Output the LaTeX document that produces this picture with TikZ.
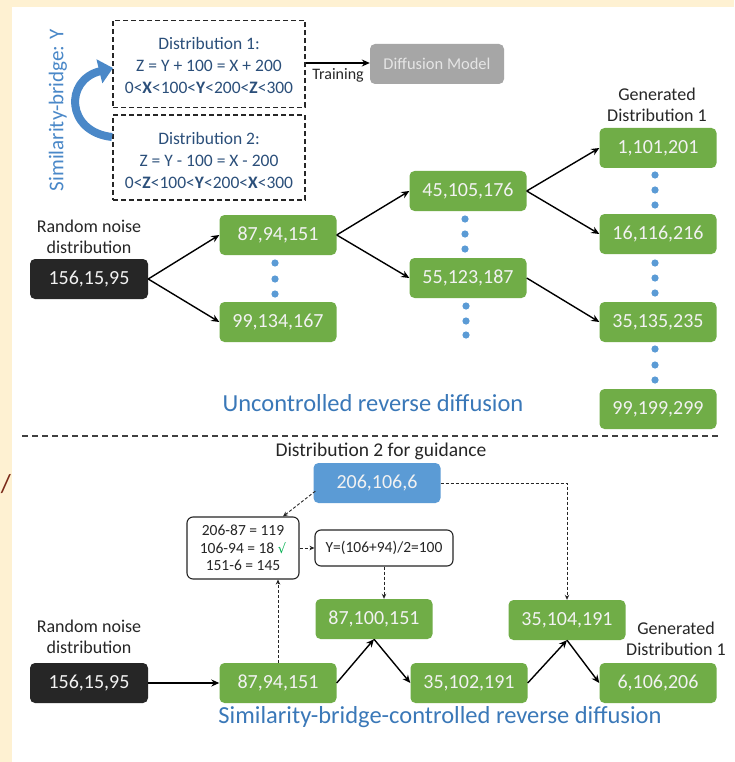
\documentclass[tikz,border=0pt]{standalone}
\usepackage{fontspec}
\setmainfont{Carlito}
\newfontfamily\dejavu{DejaVu Sans}
\usetikzlibrary{arrows.meta,calc}
\definecolor{cream}{HTML}{FEF1D2}
\definecolor{gfill}{HTML}{70AD47}
\definecolor{bfill}{HTML}{5B9BD5}
\definecolor{kfill}{HTML}{262626}
\definecolor{grayfill}{HTML}{A6A6A6}
\definecolor{navytext}{HTML}{2B4F7A}
\definecolor{labelblue}{HTML}{3A78B8}
\definecolor{arcblue}{HTML}{4A88C8}
\definecolor{checkgreen}{HTML}{00B050}
\definecolor{slashred}{HTML}{7A2A18}
\begin{document}
\begin{tikzpicture}[x=1pt,y=-1pt,
  box/.style={rounded corners=5pt, minimum width=117pt, minimum height=40pt, inner sep=0pt,
    text=white!95!black, font=\fontsize{20}{24}\selectfont},
  gbox/.style={box, fill=gfill},
  kbox/.style={box, fill=kfill, minimum width=118pt},
  bbox/.style={box, fill=bfill, minimum width=127pt},
  dbox/.style={draw=black!85, line width=1.4pt, dash pattern=on 5pt off 3pt, minimum width=192pt, inner sep=0pt},
  dtext/.style={text=navytext, font=\fontsize{17.5}{22}\selectfont, align=center},
  wbox/.style={draw=black!85, line width=1.1pt, rounded corners=6pt, fill=white, inner sep=0pt,
    font=\fontsize{15.5}{17.5}\selectfont, align=center, text=black!85},
  lbl/.style={font=\fontsize{18}{21}\selectfont, align=center, text=black!85},
  title/.style={font=\fontsize{24.5}{28}\selectfont, text=labelblue},
  arr/.style={-{Stealth[length=8pt,width=7pt]}, line width=1.4pt, black},
  darr/.style={-{Stealth[length=5pt,width=4.5pt]}, line width=0.9pt, dash pattern=on 3pt off 2pt, black!85},
  dot/.style={fill=bfill}
]
\useasboundingbox (0,0) rectangle (734,762);
\fill[cream] (0,0) rectangle (734,762);
\fill[white] (12,7) rectangle (734,762);
\node[text=slashred, font=\fontsize{26}{26}\selectfont] (slash) at (6,484) {/};

% ---------- top: distributions ----------
\node[dbox, minimum height=87pt] (db1) at (209,64) {};
\node[dtext] (dt1) at (209,65) {Distribution 1:\\ Z = Y + 100 = X + 200\\ 0<\textbf{X}<100<\textbf{Y}<200<\textbf{Z}<300};
\node[dbox, minimum height=85pt] (db2) at (209,157.5) {};
\node[dtext] (dt2) at (209,160) {Distribution 2:\\ Z = Y - 100 = X - 200\\ 0<\textbf{Z}<100<\textbf{Y}<200<\textbf{X}<300};
\node[rotate=90, text=arcblue, font=\fontsize{21}{24}\selectfont] (sb) at (58,110) {Similarity-bridge: Y};
\draw[line width=8pt, arcblue, -{Triangle[length=14pt,width=24pt]}] (112,137) .. controls (66,132) and (64,80) .. (113,68);

\node[box, fill=grayfill, minimum width=134pt, text=white!90!black, font=\fontsize{16.5}{20}\selectfont] (dm) at (437,64) {Diffusion Model};
\draw[arr, line width=1.3pt] (db1.east |- 0,63) -- (dm.west |- 0,63);
\node[font=\fontsize{16}{19}\selectfont, text=black!85] (train) at (338,75) {Training};

% ---------- uncontrolled ----------
\node[lbl] (rn1) at (89,237) {Random noise\\distribution};
\node[kbox] (k1) at (89,279) {156,15,95};
\node[gbox] (g1) at (278,235) {87,94,151};
\node[gbox] (g2) at (278,322) {99,134,167};
\node[gbox] (g3) at (468,191) {45,105,176};
\node[gbox] (g4) at (468,278) {55,123,187};
\node[lbl] (gen1) at (657,105) {Generated\\Distribution 1};
\node[gbox] (g5) at (658,148) {1,101,201};
\node[gbox] (g6) at (658,234) {16,116,216};
\node[gbox] (g7) at (658,322) {35,135,235};
\node[gbox] (g8) at (658,409) {99,199,299};

\draw[arr] (k1.east) -- (g1.west);
\draw[arr] (k1.east) -- (g2.west);
\draw[arr] (g1.east) -- (g3.west);
\draw[arr] (g1.east) -- (g4.west);
\draw[arr] (g3.east) -- (g5.west);
\draw[arr] (g3.east) -- (g6.west);
\draw[arr] (g4.east) -- (g7.west);

\foreach \x/\y in {275/263,275/279,275/294, 465/219,465/234,465/249, 466/306,466/321,466/335,
  655/175,655/190,655/205, 655/263,655/278,655/293, 655/349,655/365,655/380}
  \fill[dot] (\x,\y) circle (3.6pt);

\node[title] (t1) at (373,403) {Uncontrolled reverse diffusion};

\draw[line width=1.3pt, black!75, dash pattern=on 6pt off 4pt] (22,436) -- (720,436);

% ---------- controlled ----------
\node[lbl, font=\fontsize{19.5}{22}\selectfont] (d2g) at (381,451) {Distribution 2 for guidance};
\node[bbox] (bl) at (377,483) {206,106,6};
\node[wbox, minimum width=112pt, minimum height=62pt] (calc) at (243,548) {206-87 = 119\\ 106-94 = 18 {\color{checkgreen}\dejavu\fontsize{13}{15}\selectfont √}\\ 151-6 = 145};
\node[wbox, minimum width=138pt, minimum height=36pt] (yb) at (384,548) {Y=(106+94)/2=100};

\node[lbl] (rn2) at (89,637) {Random noise\\distribution};
\node[kbox] (k2) at (89,683) {156,15,95};
\node[gbox] (b1) at (278,683) {87,94,151};
\node[gbox] (b2) at (374,619) {87,100,151};
\node[gbox] (b3) at (469,683) {35,102,191};
\node[gbox] (b4) at (567,620) {35,104,191};
\node[gbox] (b5) at (658,683) {6,106,206};
\node[lbl] (gen2) at (676,639) {Generated\\Distribution 1};

\draw[arr] (k2.east) -- (b1.west);
\draw[arr] (b1.east) -- (b2.south);
\draw[arr] (b2.south) -- (b3.west);
\draw[arr] (b3.east) -- (b4.south);
\draw[arr] (b4.south) -- (b5.west);

\draw[darr] ([shift={(2,-12)}]bl.south west) -- ([xshift=40pt]calc.north);
\draw[darr] (calc.east) -- (yb.west);
\draw[darr] (b1.north) -- (b1.north |- calc.south);
\draw[darr] (yb.south) -- (yb.south |- b2.north);
\draw[darr] (bl.east) -| (b4.north);

\node[title] (t2) at (440,717) {Similarity-bridge-controlled reverse diffusion};
\end{tikzpicture}
\end{document}
